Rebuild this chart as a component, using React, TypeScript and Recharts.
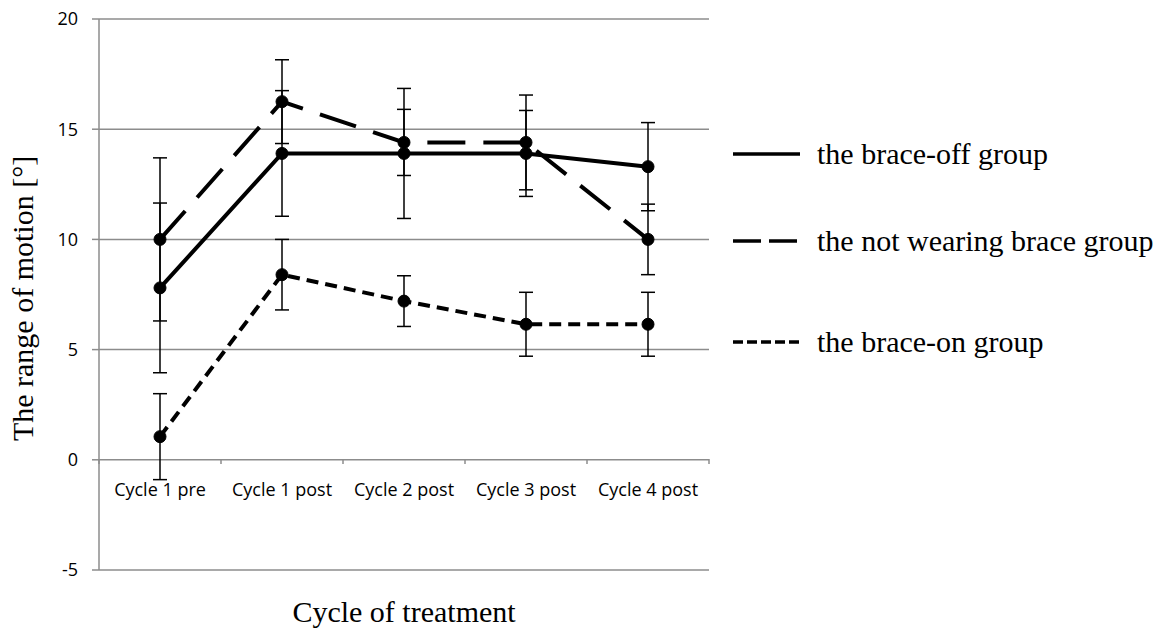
import React from 'react';
import { LineChart, Line, XAxis, YAxis, CartesianGrid, ErrorBar, Legend } from 'recharts';

const categories = ['Cycle 1 pre', 'Cycle 1 post', 'Cycle 2 post', 'Cycle 3 post', 'Cycle 4 post'];
const braceOff = [7.8, 13.9, 13.9, 13.9, 13.3];
const braceOffErr = [3.85, 2.85, 2.95, 1.95, 2.0];
const notWearing = [10.0, 16.25, 14.4, 14.4, 10.0];
const notWearingErr = [3.7, 1.9, 1.5, 2.15, 1.6];
const braceOn = [1.05, 8.4, 7.2, 6.15, 6.15];
const braceOnErr = [1.95, 1.6, 1.15, 1.45, 1.45];
const yTicks = [-5, 0, 5, 10, 15, 20];

const data = categories.map((name, i) => ({
  name,
  off: braceOff[i],
  offErr: braceOffErr[i],
  notWearing: notWearing[i],
  notWearingErr: notWearingErr[i],
  on: braceOn[i],
  onErr: braceOnErr[i],
}));

const series = [
  { key: 'off', err: 'offErr', name: 'the brace-off group', dash: undefined, legendDash: undefined },
  { key: 'notWearing', err: 'notWearingErr', name: 'the not wearing brace group', dash: '38 18', legendDash: '28 8' },
  { key: 'on', err: 'onErr', name: 'the brace-on group', dash: '12 7', legendDash: '10 4' },
];

const GRID = '#8c8c8c';
const SERIF = '"Liberation Serif", "Times New Roman", serif';
const SANS = '"Open Sans", sans-serif';

// x axis sits on the 0 line, not at the bottom of the plot
const CategoryTick = ({ x, y, payload, index }: any) => {
  const half = 61;
  const axisY = y - 111;
  return (
    <g>
      <line x1={x - half} x2={x - half} y1={axisY} y2={axisY + 5} stroke={GRID} strokeWidth={1.5} />
      {index === categories.length - 1 && (
        <line x1={x + half} x2={x + half} y1={axisY} y2={axisY + 5} stroke={GRID} strokeWidth={1.5} />
      )}
      <text x={x} y={axisY + 37} textAnchor="middle" fontFamily={SANS} fontSize={18} fill="#000">
        {payload.value}
      </text>
    </g>
  );
};

const legendGaps = [0, 47, 61];

const renderLegend = () => (
  <div style={{ fontFamily: SERIF, fontSize: 30, color: '#000' }}>
    {series.map((s, i) => (
      <div key={s.key} style={{ display: 'flex', alignItems: 'center', height: 40, marginTop: legendGaps[i] }}>
        <svg width={67} height={10}>
          <line x1={0} x2={67} y1={5} y2={5} stroke="#000" strokeWidth={3.5} strokeDasharray={s.legendDash} />
        </svg>
        <span style={{ marginLeft: 17, lineHeight: 1, whiteSpace: 'nowrap' }}>{s.name}</span>
      </div>
    ))}
  </div>
);

export default function App() {
  return (
    <div style={{ position: 'absolute', left: 0, top: 0, background: '#fff' }}>
      <LineChart width={1161} height={630} data={data} margin={{ top: 19, right: 452, bottom: 0, left: 39 }}>
        <CartesianGrid vertical={false} stroke={GRID} strokeWidth={1.5} />
        <XAxis
          dataKey="name"
          height={60}
          axisLine={false}
          tickLine={false}
          tickSize={0}
          tickMargin={0}
          padding={{ left: 61, right: 61 }}
          tick={<CategoryTick />}
          interval={0}
          label={{
            content: ({ viewBox }: any) => (
              <text
                x={viewBox.x + viewBox.width / 2}
                y={622}
                textAnchor="middle"
                fontFamily={SERIF}
                fontSize={30}
                fill="#000"
              >
                Cycle of treatment
              </text>
            ),
          }}
        />
        <YAxis
          width={60}
          domain={[-5, 20]}
          ticks={yTicks}
          type="number"
          axisLine={{ stroke: GRID, strokeWidth: 1.5 }}
          tickLine={{ stroke: GRID, strokeWidth: 1.5 }}
          tickSize={7}
          tickMargin={14}
          tick={{ fill: '#000', fontFamily: SANS, fontSize: 18 }}
          label={{
            content: ({ viewBox }: any) => {
              const cy = viewBox.y + viewBox.height / 2 + 4;
              return (
                <text
                  transform={`translate(33, ${cy}) rotate(-90)`}
                  textAnchor="middle"
                  fontFamily={SERIF}
                  fontSize={30}
                  fill="#000"
                >
                  The range of motion [°]
                </text>
              );
            },
          }}
        />
        {series.map((s) => (
          <Line
            key={s.key}
            dataKey={s.key}
            name={s.name}
            stroke="#000"
            strokeWidth={4}
            strokeDasharray={s.dash}
            dot={{ r: 6, fill: '#000', stroke: '#000', strokeWidth: 1, strokeDasharray: '' }}
            activeDot={false}
            isAnimationActive={false}
          >
            <ErrorBar dataKey={s.err} direction="y" width={7} stroke="#000" strokeWidth={1.5} isAnimationActive={false} />
          </Line>
        ))}
        <Legend
          layout="vertical"
          align="center"
          verticalAlign="middle"
          content={renderLegend}
          wrapperStyle={{ left: 733, top: 134, width: 428 }}
        />
      </LineChart>
    </div>
  );
}
